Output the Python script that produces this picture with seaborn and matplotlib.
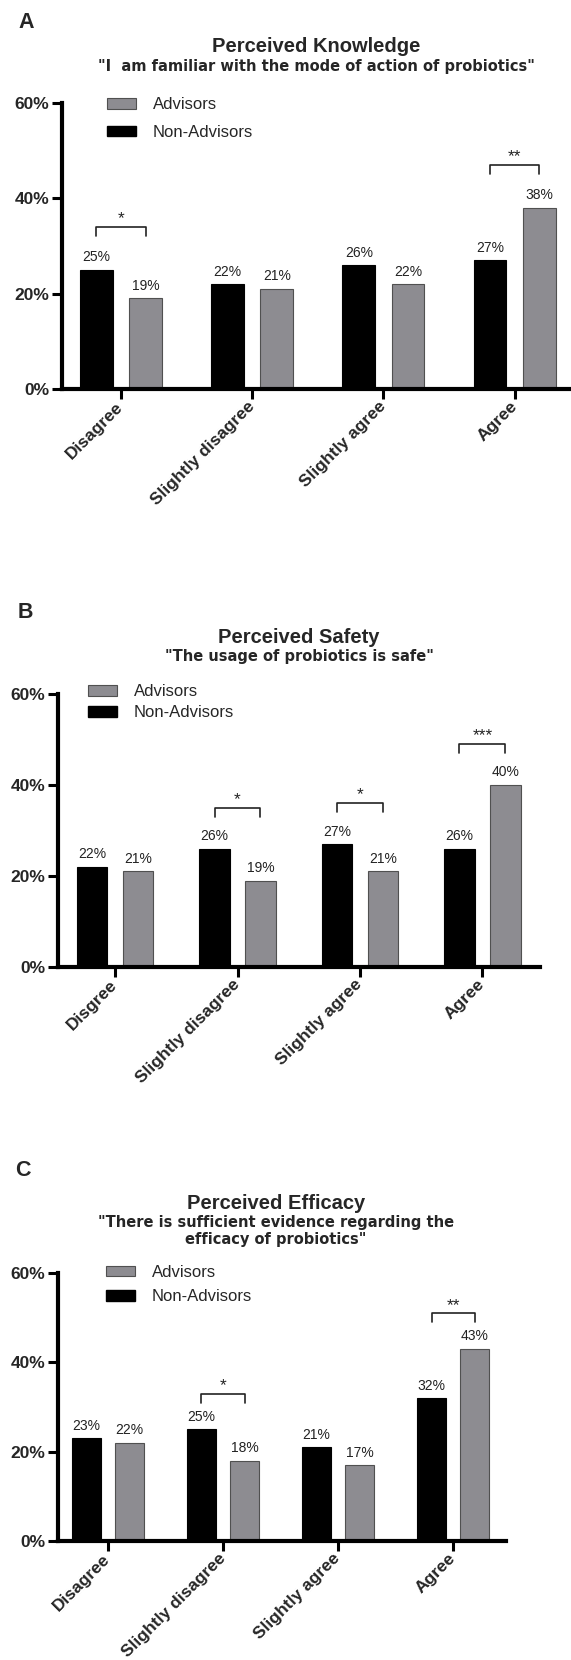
import matplotlib
matplotlib.use("Agg")
import matplotlib.pyplot as plt
from matplotlib.patches import Patch
import pandas as pd
import seaborn as sns

# Response categories (panel B keeps the original spelling)
responses = ["Disagree", "Slightly disagree", "Slightly agree", "Agree"]
responses_safety = ["Disgree", "Slightly disagree", "Slightly agree", "Agree"]
groups = ["Non-Advisors", "Advisors"]

# Percentages per panel
knowledge_non_advisors = [25, 22, 26, 27]
knowledge_advisors = [19, 21, 22, 38]
safety_non_advisors = [22, 26, 27, 26]
safety_advisors = [21, 19, 21, 40]
efficacy_non_advisors = [23, 25, 21, 32]
efficacy_advisors = [22, 18, 17, 43]

# Significance marks (category index -> stars)
knowledge_sig = {0: "*", 3: "**"}
safety_sig = {1: "*", 2: "*", 3: "***"}
efficacy_sig = {1: "*", 3: "**"}

W, H = 571, 1660
BLACK = "#000000"
GREY = "#8d8c91"
TEXT = "#222222"


def px(x, y):
    """ pixel position (top-left origin) -> figure fraction """
    return x / W, 1 - y / H


def rect(left, right, top, bottom):
    return [left / W, 1 - bottom / H, (right - left) / W, (bottom - top) / H]


def draw_panel(fig, box, categories, non_adv, adv, sig, xlim, legend_anchor,
               legend_spacing, bracket_gap):
    ax = fig.add_axes(box)
    df = pd.DataFrame({
        "response": categories * 2,
        "group": [groups[0]] * len(categories) + [groups[1]] * len(categories),
        "value": non_adv + adv,
    })
    sns.barplot(data=df, x="response", y="value", hue="group", hue_order=groups,
                palette=[BLACK, GREY], width=0.75, gap=1 / 3, ax=ax, legend=False,
                saturation=1, linewidth=0.8, edgecolor=BLACK)
    for bar in ax.containers[1]:
        bar.set_edgecolor("#505050")

    # value labels
    for cont in ax.containers:
        ax.bar_label(cont, labels=[f"{b.get_height():.0f}%" for b in cont],
                     padding=4, fontsize=10, color=TEXT)

    # significance brackets
    off = 0.1875
    for i, stars in sig.items():
        top = max(non_adv[i], adv[i]) + bracket_gap
        ax.plot([i - off, i - off, i + off, i + off], [top - 2, top, top, top - 2],
                color=TEXT, lw=1.2, clip_on=False)
        ax.text(i, top + 1.8, stars, ha="center", va="center", fontsize=12.5, color=TEXT)

    ax.set_xlim(*xlim)
    ax.set_ylim(0, 60)
    ax.set_yticks([0, 20, 40, 60])
    ax.set_yticklabels(["0%", "20%", "40%", "60%"], fontweight="bold", fontsize=12.5)
    ax.set_xlabel("")
    ax.set_ylabel("")
    ax.tick_params(axis="both", direction="out", length=7, width=2.2, color=BLACK)
    ax.tick_params(axis="y", pad=2)
    ax.tick_params(axis="x", pad=4)
    plt.setp(ax.get_xticklabels(), rotation=45, ha="right", va="center",
             rotation_mode="anchor", fontweight="bold", fontsize=12.5)
    sns.despine(ax=ax)
    for side in ["left", "bottom"]:
        ax.spines[side].set_linewidth(3)
        ax.spines[side].set_color(BLACK)
    ax.spines["left"].set_capstyle("projecting")

    handles = [Patch(facecolor=GREY, edgecolor="#505050", linewidth=0.8),
               Patch(facecolor=BLACK, edgecolor=BLACK)]
    ax.legend(handles=handles, labels=["Advisors", "Non-Advisors"], loc="upper left",
              bbox_to_anchor=legend_anchor, frameon=False, fontsize=12,
              handlelength=1.75, handleheight=0.6, handletextpad=1.0,
              labelspacing=legend_spacing, borderpad=0, borderaxespad=0)
    return ax


sns.set_style("ticks")
plt.rcParams["font.family"] = ["Liberation Sans", "DejaVu Sans"]

fig = plt.figure(figsize=(W / 100, H / 100), dpi=100)

# Panel A
draw_panel(fig, rect(62, 571, 103, 389), responses, knowledge_non_advisors,
           knowledge_advisors, knowledge_sig, (-0.45, 3.43), (0.088, 1.02), 0.75, 9)
# Panel B
draw_panel(fig, rect(58, 540, 694, 967), responses_safety, safety_non_advisors,
           safety_advisors, safety_sig, (-0.466, 3.47), (0.062, 1.035), 0.35, 9)
# Panel C
draw_panel(fig, rect(58, 506, 1273, 1541), responses, efficacy_non_advisors,
           efficacy_advisors, efficacy_sig, (-0.435, 3.46), (0.107, 1.03), 0.55, 8)

# Panel letters and titles
sub_font = dict(family=["DejaVu Sans"], fontweight="bold", fontsize=10.5,
                ha="center", va="center")
for letter, lxy, title, txy, subtitle, sxy in [
    ("A", (18, 23), "Perceived Knowledge", (316, 47),
     '"I  am familiar with the mode of action of probiotics"', (316, 66)),
    ("B", (18, 612), "Perceived Safety", (299, 637),
     '"The usage of probiotics is safe"', (299, 657)),
    ("C", (15, 1170), "Perceived Efficacy", (276, 1203),
     '"There is sufficient evidence regarding the\nefficacy of probiotics"', (276, 1231)),
]:
    fig.text(*px(*lxy), letter, fontsize=15.5, fontweight="bold", ha="left", va="center")
    fig.text(*px(*txy), title, fontsize=14.5, fontweight="bold", ha="center", va="center")
    fig.text(*px(*sxy), subtitle, linespacing=1.1, **sub_font)

fig.savefig("out.png", dpi=100)
plt.close(fig)
